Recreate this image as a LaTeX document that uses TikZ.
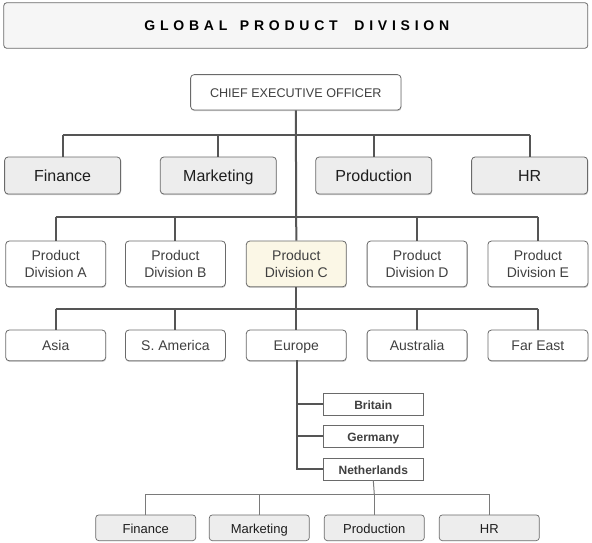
\documentclass[tikz,border=0pt]{standalone}
\usepackage{fontspec}
\setmainfont{Liberation Sans}
\newfontfamily\titlefont[LetterSpace=34]{Liberation Sans}
\usetikzlibrary{shadows}
\definecolor{bordergray}{HTML}{6A6A6A}
\definecolor{linegray}{HTML}{555555}
\definecolor{thingray}{HTML}{7A7A7A}
\definecolor{boxgray}{HTML}{EDEDED}
\definecolor{titlefill}{HTML}{F6F6F6}
\definecolor{paleyellow}{HTML}{FBF7E6}
\definecolor{txtdark}{HTML}{1E1E1E}
\definecolor{txtmid}{HTML}{404040}
\tikzset{
  softshadow/.style={drop shadow={shadow xshift=0.4pt, shadow yshift=-1.2pt, opacity=0.28, fill=black!70}},
  basebox/.style={draw=bordergray, line width=0.8pt, rounded corners=3.5pt, inner sep=0pt, align=center},
  oneline/.style={text height=1.2em, text depth=0.15em},
  titlebox/.style={basebox, fill=titlefill, minimum width=584pt, minimum height=45.6pt, rounded corners=3pt, oneline},
  ceobox/.style={basebox, oneline, fill=white, softshadow, minimum width=210.4pt, minimum height=35.3pt,
    font=\fontsize{12.6}{14}\selectfont, text=txtmid},
  deptbox/.style={basebox, oneline, text height=1.38em, fill=boxgray, softshadow, minimum width=116pt, minimum height=37pt,
    font=\fontsize{16}{18}\selectfont, text=txtdark},
  divbox/.style={basebox, fill=white, softshadow, minimum width=100pt, minimum height=45.7pt,
    font=\fontsize{14}{16.7}\selectfont, text=txtmid},
  regbox/.style={basebox, oneline, fill=white, softshadow, minimum width=100pt, minimum height=30.7pt,
    font=\fontsize{14}{16}\selectfont, text=txtmid},
  ctrybox/.style={draw=bordergray, oneline, line width=0.7pt, fill=white, inner sep=0pt, minimum width=100pt,
    minimum height=22pt, font=\bfseries\fontsize{12}{14}\selectfont, text=txtmid},
  smallbox/.style={basebox, oneline, fill=boxgray, line width=0.7pt, rounded corners=3pt, minimum width=100pt, minimum height=25.7pt,
    font=\fontsize{13}{15}\selectfont, text=txtdark},
  link/.style={draw=linegray, line width=2pt},
  thinlink/.style={draw=thingray, line width=1pt}
}
\begin{document}
\begin{tikzpicture}[x=1pt,y=-1pt]
\useasboundingbox (0,0) rectangle (592,543);
% title
\node[titlebox, font=\titlefont\bfseries\fontsize{14}{14}\selectfont, text=black] (title) at (295.8,25.5) {\hspace*{2pt}GLOBAL\hspace{4pt} PRODUCT\hspace{8pt} DIVISION};
% CEO
\node[ceobox] (ceo) at (295.8,92.3) {CHIEF EXECUTIVE OFFICER};
% bus coordinates
\coordinate (busA) at (295.8,135);
\coordinate (busB) at (295.8,217.3);
\coordinate (busC) at (295.8,309);
% departments
\node[deptbox] (fin) at (62.6,175.5) {Finance};
\node[deptbox] (mkt) at (218.3,175.5) {Marketing};
\node[deptbox] (prd) at (373.7,175.5) {Production};
\node[deptbox] (hr) at (529.6,175.5) {HR};
% divisions
\node[divbox] (pda) at (55.7,263.9) {Product\\Division A};
\node[divbox] (pdb) at (175.4,263.9) {Product\\Division B};
\node[divbox, fill=paleyellow] (pdc) at (296.3,263.9) {Product\\Division C};
\node[divbox] (pdd) at (417.1,263.9) {Product\\Division D};
\node[divbox] (pde) at (537.9,263.9) {Product\\Division E};
% regions
\node[regbox] (asia) at (55.7,345.4) {Asia};
\node[regbox] (sam) at (175.4,345.4) {S. America};
\node[regbox] (eur) at (296.3,345.4) {Europe};
\node[regbox] (aus) at (417.1,345.4) {Australia};
\node[regbox] (fe) at (537.9,345.4) {Far East};
% countries
\node[ctrybox] (bri) at (373.3,404.3) {Britain};
\node[ctrybox] (ger) at (373.3,436.3) {Germany};
\node[ctrybox] (net) at (373.3,469.1) {Netherlands};
% bottom departments
\node[smallbox] (bfin) at (145.7,527.8) {Finance};
\node[smallbox] (bmkt) at (259.3,527.8) {Marketing};
\node[smallbox] (bprd) at (374.3,527.8) {Production};
\node[smallbox] (bhr) at (489.3,527.8) {HR};
\coordinate (busD) at (374.3,494.3);
\coordinate (eurstem) at (297.3,469.1);

% connectors: CEO level
\draw[link] (ceo.south) -- (pdc.north);
\draw[link] (fin.north|-busA) -- (hr.north|-busA);
\foreach \n in {fin,mkt,prd,hr} \draw[link] (\n.north) -- (\n.north|-busA);
% divisions
\draw[link] (pda.north|-busB) -- (pde.north|-busB);
\foreach \n in {pda,pdb,pdd,pde} \draw[link] (\n.north) -- (\n.north|-busB);
% regions
\draw[link] (pdc.south) -- (eur.north);
\draw[link] (asia.north|-busC) -- (fe.north|-busC);
\foreach \n in {asia,sam,aus,fe} \draw[link] (\n.north) -- (\n.north|-busC);
% Europe countries
\draw[link, line cap=rect] (eur.south-|eurstem) -- (eurstem);
\foreach \n in {bri,ger,net} \draw[link] (\n.west) -- (\n.west-|eurstem);
% Netherlands departments
\draw[thinlink] (net.south) -- (busD);
\draw[thinlink] (bfin.north|-busD) -- (bhr.north|-busD);
\foreach \n in {bfin,bmkt,bprd,bhr} \draw[thinlink] (\n.north) -- (\n.north|-busD);
\end{tikzpicture}
\end{document}
